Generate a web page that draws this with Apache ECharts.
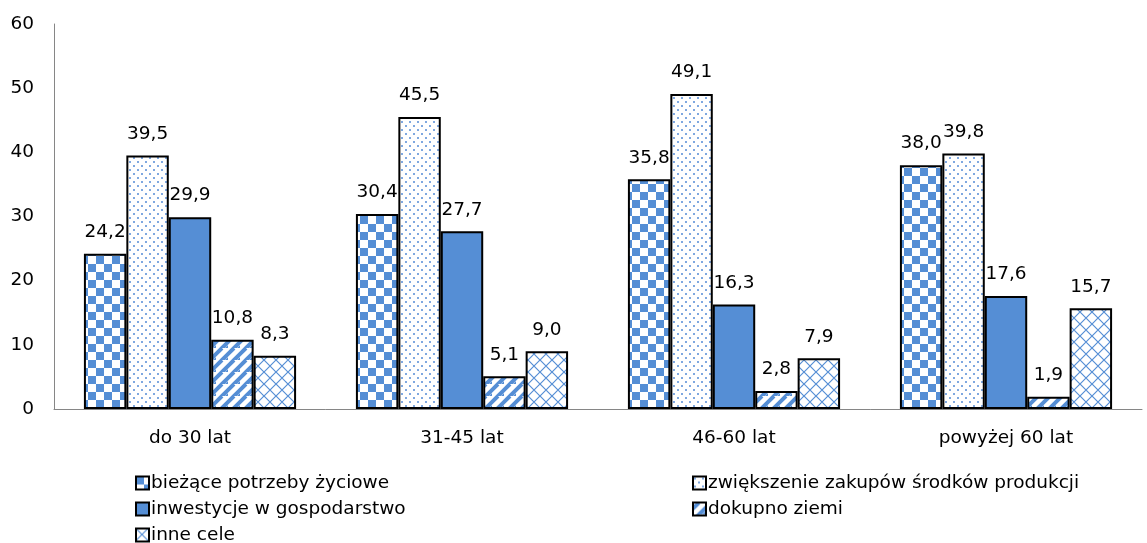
<!DOCTYPE html>
<html><head><meta charset="utf-8">
<script src="https://cdn.jsdelivr.net/npm/echarts@6/dist/echarts.min.js"></script>
<style>html,body{margin:0;padding:0;background:#fff}#c{width:1147px;height:543px}</style>
</head><body><div id="c"></div>
<script>
const categories = ['do 30 lat', '31-45 lat', '46-60 lat', 'powyżej 60 lat'];
const seriesNames = ['bieżące potrzeby życiowe', 'zwiększenie zakupów środków produkcji', 'inwestycje w gospodarstwo', 'dokupno ziemi', 'inne cele'];
const biezace = [24.2, 30.4, 35.8, 38.0];
const zwiekszenie = [39.5, 45.5, 49.1, 39.8];
const inwestycje = [29.9, 27.7, 16.3, 17.6];
const dokupno = [10.8, 5.1, 2.8, 1.9];
const inne = [8.3, 9.0, 7.9, 15.7];
const yTicks = [0, 10, 20, 30, 40, 50, 60];

const BLUE = '#558ED5';
function cv(w, h) { const c = document.createElement('canvas'); c.width = w; c.height = h; const x = c.getContext('2d'); x.fillStyle = '#fff'; x.fillRect(0, 0, w, h); return [c, x]; }
function checker() { const [c, x] = cv(16, 16); x.fillStyle = BLUE; x.fillRect(0, 0, 8, 8); x.fillRect(8, 8, 8, 8); return c; }
function dots() { const [c, x] = cv(8, 8); x.fillStyle = '#7FA8E0'; x.fillRect(1, 1, 2, 2); x.fillRect(5, 5, 2, 2); return c; }
function stripes() { const [c, x] = cv(12, 12); x.strokeStyle = BLUE; x.lineWidth = 4; x.beginPath();
  x.moveTo(-6, 12); x.lineTo(6, 0); x.moveTo(0, 18); x.lineTo(18, 0); x.moveTo(6, 18); x.lineTo(18, 6); x.stroke(); return c; }
function cross() { const [c, x] = cv(12, 12); x.strokeStyle = BLUE; x.lineWidth = 1.2; x.beginPath();
  x.moveTo(0, 0); x.lineTo(12, 12); x.moveTo(12, 0); x.lineTo(0, 12); x.stroke(); return c; }
const fills = [
  { image: checker(), repeat: 'repeat' },
  { image: dots(), repeat: 'repeat' },
  BLUE,
  { image: stripes(), repeat: 'repeat' },
  { image: cross(), repeat: 'repeat' }
];
const datasets = [biezace, zwiekszenie, inwestycje, dokupno, inne];
const FONT = 'DejaVu Sans';
const FS = 18.5;
const legendText = { fontSize: FS, color: '#000', fontFamily: FONT, lineHeight: 20, padding: [0, 0, 0, -3] };
const chart = echarts.init(document.getElementById('c'));
chart.setOption({
  animation: false,
  textStyle: { fontFamily: FONT },
  grid: { left: 54, right: 5, top: 24, bottom: 134 },
  legend: [
    { left: 135, top: 473, height: 100, padding: 0, orient: 'vertical', itemGap: 6, itemWidth: 13, itemHeight: 13, icon: 'rect',
      data: [seriesNames[0], seriesNames[2], seriesNames[4]], textStyle: legendText },
    { left: 692, top: 473, height: 100, padding: 0, orient: 'vertical', itemGap: 6, itemWidth: 13, itemHeight: 13, icon: 'rect',
      data: [seriesNames[1], seriesNames[3]], textStyle: legendText }
  ],
  xAxis: {
    type: 'category', data: categories,
    axisLine: { lineStyle: { color: '#868686', width: 1 } },
    axisTick: { show: false },
    axisLabel: { fontSize: FS, color: '#000', margin: 20, fontFamily: FONT }
  },
  yAxis: {
    type: 'value', min: 0, max: 60, interval: 10,
    axisLine: { show: true, lineStyle: { color: '#868686', width: 1 } },
    axisTick: { show: false },
    splitLine: { show: false },
    axisLabel: { fontSize: FS, color: '#000', margin: 20, fontFamily: FONT,
      formatter: v => yTicks.includes(v) ? String(v) : '' }
  },
  series: datasets.map((d, i) => ({
    name: seriesNames[i], type: 'bar', data: d,
    barGap: '0%', barCategoryGap: '22%',
    itemStyle: { color: fills[i], borderColor: '#000', borderWidth: 2 },
    label: { show: true, position: 'top', distance: 12, fontSize: FS, color: '#000', fontFamily: FONT,
      formatter: p => p.value.toFixed(1).replace('.', ',') }
  }))
});
</script></body></html>
